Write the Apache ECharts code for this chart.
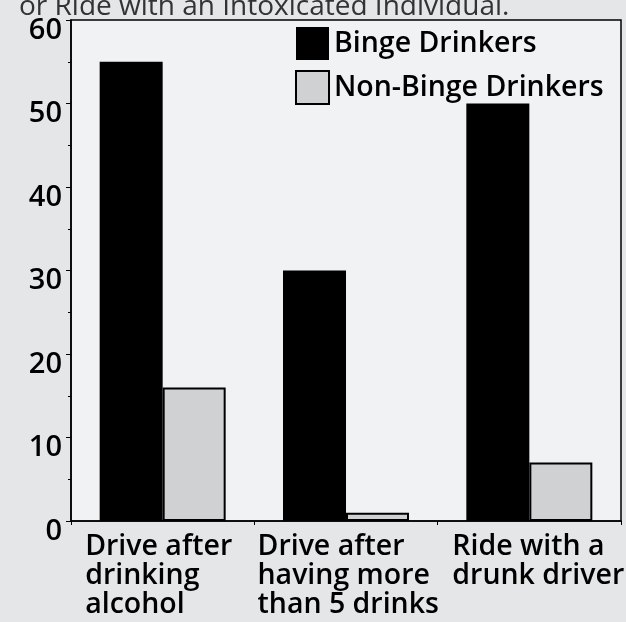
<!DOCTYPE html>
<html>
<head>
<meta charset="utf-8">
<script src="https://cdn.jsdelivr.net/npm/echarts@6/dist/echarts.min.js"></script>
<style>
html, body { margin: 0; padding: 0; background: #e5e6e8; }
#chart { width: 626px; height: 622px; }
</style>
</head>
<body>
<div id="chart"></div>
<script>
var categories = ['Drive after\ndrinking\nalcohol', 'Drive after\nhaving more\nthan 5 drinks', 'Ride with a\ndrunk driver'];
var binge = [55, 30, 50];
var nonBinge = [16, 1, 7];
var seriesNames = ['Binge Drinkers', 'Non-Binge Drinkers'];
var titleText = 'or Ride with an Intoxicated Individual.';

var font = 'Open Sans';
// label blocks: lines left aligned inside each block
var labelWidths = [148, 180, 167];
var labelPads = [[0, 7, 0, 0], [0, 0, 0, 3], [0, 0, 0, 13]];
var rich = {};
for (var k = 0; k < categories.length; k++) {
	rich['c' + k] = {
		width: labelWidths[k],
		padding: labelPads[k],
		align: 'left',
		fontSize: 28.5,
		fontWeight: 600,
		fontFamily: font,
		color: '#000',
		lineHeight: 29
	};
}

var myChart = echarts.init(document.getElementById('chart'));
var option = {
	backgroundColor: '#e5e6e8',
	title: {
		text: titleText,
		left: 14,
		top: -12,
		textStyle: { fontFamily: font, fontSize: 28, fontWeight: 'normal', color: '#333' }
	},
	grid: {
		left: 71,
		right: 5,
		top: 20,
		bottom: 101,
		containLabel: false,
		outerBoundsMode: 'none',
		show: true,
		backgroundColor: '#f1f2f4',
		borderColor: '#000',
		borderWidth: 1.5
	},
	legend: {
		orient: 'vertical',
		left: 295,
		top: 27,
		padding: 0,
		itemWidth: 33,
		itemHeight: 33,
		itemGap: 10,
		icon: 'rect',
		textStyle: { fontFamily: font, fontSize: 28.5, fontWeight: 600, color: '#000' },
		data: seriesNames
	},
	xAxis: {
		type: 'category',
		data: categories,
		axisLine: { lineStyle: { color: '#000', width: 1.5 } },
		axisTick: { show: true, length: 4, lineStyle: { color: '#000' } },
		axisLabel: {
			margin: 11,
			interval: 0,
			hideOverlap: false,
			formatter: function (value, idx) {
				return value.split('\n').map(function (l) { return '{c' + idx + '|' + l + '}'; }).join('\n');
			},
			rich: rich
		}
	},
	yAxis: {
		type: 'value',
		min: 0,
		max: 60,
		interval: 10,
		axisLine: { show: true, lineStyle: { color: '#000', width: 1.5 } },
		axisTick: { show: true, length: 5, lineStyle: { color: '#000' } },
		minorTick: { show: true, splitNumber: 2, length: 3, lineStyle: { color: '#000' } },
		splitLine: { show: false },
		axisLabel: {
			margin: 9,
			fontFamily: font,
			fontSize: 29,
			fontWeight: 600,
			color: '#000',
			verticalAlign: 'top',
			lineHeight: 21
		}
	},
	series: [
		{
			name: seriesNames[0],
			type: 'bar',
			data: binge,
			barWidth: 63,
			barGap: 0,
			itemStyle: { color: '#000' }
		},
		{
			name: seriesNames[1],
			type: 'bar',
			data: nonBinge,
			barWidth: 63,
			itemStyle: { color: '#d0d1d3', borderColor: '#000', borderWidth: 2 }
		}
	]
};
myChart.setOption(option);
</script>
</body>
</html>
